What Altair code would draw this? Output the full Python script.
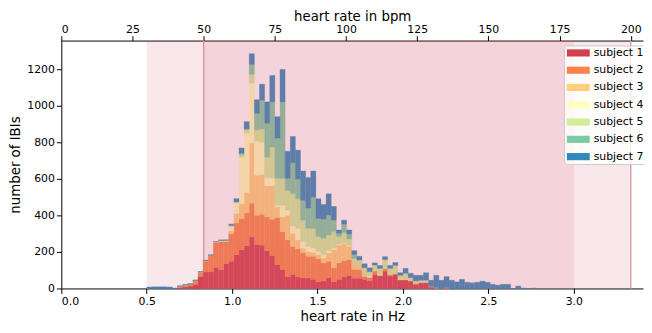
import altair as alt
import pandas as pd

# histogram bins: left edges 0.5 + 0.03*j (Hz)
bin_first = 0.5
bin_width = 0.03

subjects = ["subject 1", "subject 2", "subject 3", "subject 4",
            "subject 5", "subject 6", "subject 7"]
colors = ["#d53e4f", "#f7834d", "#fecf7d", "#ffffbf", "#d2ed9c", "#7dcba5", "#3288bd"]

s1 = [0, 0, 0, 0, 0, 0, 5, 8, 13, 23,
      65, 90, 90, 115, 104, 137, 149, 185, 212, 234,
      282, 241, 237, 207, 180, 131, 104, 63, 77, 63,
      58, 58, 50, 36, 41, 59, 36, 50, 63, 72,
      56, 56, 50, 41, 77, 68, 95, 68, 77, 47,
      47, 41, 23, 32, 32, 8, 0, 0, 0, 0,
      0, 0, 0, 0, 0, 0, 0, 0, 0, 0,
      0, 0, 0, 0, 0, 0]
s2 = [0, 0, 0, 0, 0, 0, 7, 9, 8, 19,
      21, 59, 90, 137, 153, 120, 149, 174, 171, 179,
      185, 160, 169, 185, 199, 257, 207, 203, 153, 153,
      136, 118, 126, 126, 99, 90, 77, 90, 90, 86,
      48, 48, 15, 20, 18, 4, 13, 7, 4, 0,
      0, 0, 4, 0, 0, 0, 6, 0, 5, 0,
      0, 0, 0, 0, 0, 0, 0, 0, 0, 0,
      0, 0, 0, 0, 0, 0]
s3 = [0, 0, 0, 0, 0, 0, 0, 1, 1, 1,
      2, 2, 1, 1, 2, 2, 18, 51, 81, 112,
      329, 219, 219, 170, 183, 58, 81, 135, 72, 50,
      27, 27, 22, 23, 27, 45, 99, 99, 91, 72,
      36, 24, 7, 0, 0, 0, 0, 0, 0, 0,
      0, 0, 0, 0, 0, 0, 0, 0, 0, 0,
      0, 0, 0, 0, 0, 0, 0, 0, 0, 0,
      0, 0, 0, 0, 0, 0]
s4 = [0, 0, 0, 0, 0, 0, 0, 0, 0, 0,
      0, 0, 0, 0, 2, 2, 22, 59, 255, 325,
      327, 185, 175, 45, 42, 9, 63, 27, 39, 63,
      36, 27, 23, 18, 18, 14, 9, 4, 4, 5,
      0, 0, 0, 7, 0, 5, 0, 0, 0, 3,
      0, 0, 0, 0, 0, 2, 0, 0, 0, 0,
      0, 0, 0, 0, 0, 0, 0, 0, 0, 0,
      0, 0, 0, 0, 0, 0]
s5 = [0, 0, 0, 0, 0, 0, 0, 0, 0, 0,
      0, 0, 0, 2, 1, 1, 5, 4, 14, 20,
      49, 63, 73, 112, 169, 147, 147, 108, 177, 162,
      117, 99, 108, 81, 90, 85, 90, 41, 57, 36,
      24, 27, 41, 24, 33, 33, 50, 35, 45, 22,
      36, 18, 14, 13, 13, 0, 0, 0, 0, 0,
      0, 0, 0, 0, 0, 0, 0, 0, 0, 0,
      0, 0, 0, 0, 0, 0]
s6 = [0, 0, 0, 0, 0, 0, 0, 0, 0, 0,
      2, 0, 0, 0, 0, 2, 2, 1, 7, 3,
      54, 90, 157, 185, 248, 221, 419, 66, 170, 107,
      108, 111, 171, 99, 104, 108, 63, 18, 47, 27,
      21, 0, 0, 0, 0, 0, 0, 0, 0, 0,
      0, 0, 0, 0, 0, 0, 0, 0, 0, 0,
      0, 0, 0, 0, 0, 0, 0, 0, 0, 0,
      0, 0, 0, 0, 0, 0]
s7 = [8, 9, 9, 9, 8, 2, 3, 4, 5, 4,
      3, 4, 4, 2, 4, 2, 7, 18, 29, 40,
      59, 75, 88, 117, 145, 117, 178, 149, 144, 159,
      161, 167, 143, 108, 81, 117, 75, 18, 22, 22,
      22, 21, 22, 21, 12, 16, 16, 16, 16, 14,
      27, 24, 31, 27, 41, 35, 66, 45, 60, 45,
      36, 50, 34, 31, 34, 40, 34, 23, 18, 23,
      23, 0, 13, 2, 0, 2]

series = [s1, s2, s3, s4, s5, s6, s7]

x_ticks_hz = [0.0, 0.5, 1.0, 1.5, 2.0, 2.5, 3.0]
x_ticks_bpm = [0, 25, 50, 75, 100, 125, 150, 175, 200]
y_ticks = [0, 200, 400, 600, 800, 1000, 1200]

span_start = [0.5, 50 / 60]
span_end = [3.0, 200 / 60]
line_bpm = [50, 200]

hz_max = 3.405
W, H = 589, 251
y_max = H / 0.185

rows = []
nb = len(s1)
for j in range(nb):
    base = 0
    for si, (name, vals) in enumerate(zip(subjects, series)):
        v = vals[j]
        if v > 0:
            rows.append({"x0": bin_first + bin_width * j,
                         "x1": bin_first + bin_width * (j + 1),
                         "y0": base, "y1": base + v,
                         "subject": name, "order": si})
        base += v
df = pd.DataFrame(rows)

font = "DejaVu Sans"
sym_path = "M-2.1,-0.66L2.1,-0.66L2.1,0.66L-2.1,0.66Z"
color_scale = alt.Scale(domain=subjects, range=colors)

rules = alt.Chart(pd.DataFrame({"bpm": line_bpm})).mark_rule(
    color="#e3a3b1", strokeWidth=1.5
).encode(
    x=alt.X("bpm:Q", scale=alt.Scale(domain=[0, hz_max * 60], nice=False, zero=False),
            axis=alt.Axis(orient="top", values=x_ticks_bpm, format="d",
                          title="heart rate in bpm", labelPadding=1, titlePadding=0)),
    y=alt.value(0), y2=alt.value(H),
)

bars = alt.Chart(df).mark_rect(strokeWidth=0.35).encode(
    x=alt.X("x0:Q", scale=alt.Scale(domain=[0, hz_max], nice=False, zero=False),
            axis=alt.Axis(orient="bottom", values=x_ticks_hz, format=".1f",
                          title="heart rate in Hz", labelPadding=2, titlePadding=3)),
    x2="x1:Q",
    y=alt.Y("y0:Q", scale=alt.Scale(domain=[0, y_max], nice=False),
            axis=alt.Axis(values=y_ticks, format="d", title="number of IBIs",
                          labelPadding=2, titlePadding=4)),
    y2="y1:Q",
    color=alt.Color("subject:N", scale=color_scale,
                    legend=alt.Legend(title=None, orient="none", legendX=509, legendY=5,
                                      symbolType=sym_path, symbolSize=121,
                                      symbolStrokeWidth=0, symbolOpacity=1,
                                      symbolOffset=7, labelOffset=10,
                                      labelFontSize=11, labelFont=font, labelColor="black",
                                      padding=2, rowPadding=5.5,
                                      fillColor="rgba(255,255,255,0.8)",
                                      strokeColor="#cccccc", cornerRadius=3)),
    stroke=alt.Stroke("subject:N", scale=color_scale, legend=None),
    order=alt.Order("order:Q"),
)

spans = alt.Chart(pd.DataFrame({"start": span_start, "end": span_end})).mark_rect(
    color="#d7667a", opacity=0.15
).encode(
    x=alt.X("start:Q", scale=alt.Scale(domain=[0, hz_max], nice=False, zero=False), axis=None),
    x2="end:Q",
    y=alt.value(0), y2=alt.value(H),
)

chart = alt.layer(rules, bars, spans).resolve_scale(
    x="independent"
).properties(
    width=W, height=H,
    autosize=alt.AutoSizeParams(type="none"),
    padding={"left": 54, "top": 31, "right": 1, "bottom": 34},
).configure_view(stroke=None).configure_axis(
    grid=False, labelFont=font, titleFont=font, labelFontSize=11, titleFontSize=13.5,
    labelColor="black", titleColor="black", titleFontWeight="normal",
    domainColor="black", tickColor="black", tickSize=5, domainWidth=1, tickWidth=1,
)

chart.save("out.html", embed_options={"renderer": "svg", "actions": False})
